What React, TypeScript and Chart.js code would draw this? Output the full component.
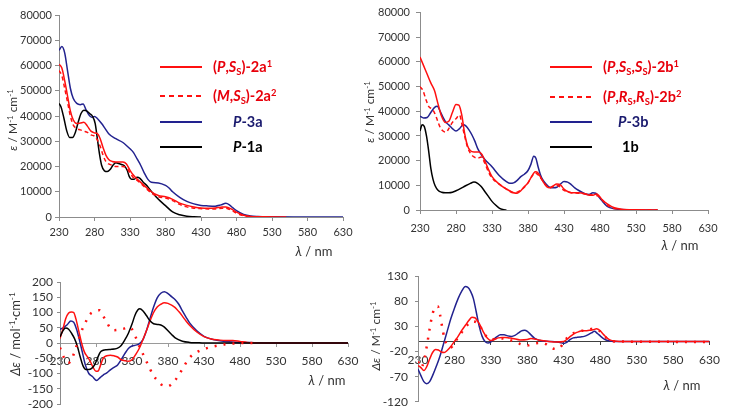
import React, { useEffect, useRef } from 'react';
import { Chart, registerables } from 'chart.js';
Chart.register(...registerables);

// ---------- tick labels ----------
const xTicks = [230, 280, 330, 380, 430, 480, 530, 580, 630];
const absYTicks = [0, 10000, 20000, 30000, 40000, 50000, 60000, 70000, 80000];
const cdLeftYTicks = [-200, -150, -100, -50, 0, 50, 100, 150, 200];
const cdRightYTicks = [-120, -70, -20, 30, 80, 130];

// ---------- top-left: absorption (a series) ----------
const wl3a = [230,234,238,242,246,250,255,260,264,268,272,276,280,284,290,295,300,310,320,330,335,340,345,350,355,360,370,380,385,390,400,410,420,430,440,450,458,465,470,475,480,490,500,510,530,560,630];
const eps3a = [66000,67500,65000,58000,51000,47000,45000,44500,44800,42500,40500,39500,39800,39000,37000,35000,33000,31000,29500,27000,25500,23000,20500,17500,15000,13800,13500,12500,11500,10000,7800,6200,5200,4600,4400,4300,4800,5400,4800,3600,2500,1000,350,150,50,0,0];
const wl2a1 = [230,234,238,242,246,250,255,260,265,270,275,280,284,288,292,296,300,305,310,315,320,325,330,335,340,350,360,370,380,390,400,410,420,430,440,450,460,465,470,475,480,490,500,520,550];
const eps2a1 = [60500,59000,54000,48000,42000,38500,37000,37200,37500,36000,34000,33300,33000,31000,27500,24500,22800,22000,21800,21800,21800,21000,18500,16500,15000,12500,10000,8500,8000,7000,5500,4600,4000,3600,3500,3600,4000,4000,3500,2800,1900,700,200,50,0];
const wl2a2 = [230,234,238,242,246,250,255,260,265,270,275,280,284,288,292,296,300,305,310,315,320,325,330,335,340,350,360,370,380,390,400,410,420,430,440,450,460,465,470,475,480,490,500,520];
const eps2a2 = [58000,56000,51000,45500,40000,36500,35000,34500,34000,33500,32500,32000,30500,28000,24500,22000,21000,20500,20000,20000,20000,19500,17500,15500,14500,12000,9500,8000,7500,6500,5000,4000,3500,3300,3200,3200,3500,3500,3000,2300,1500,500,100,0];
const wl1a = [230,233,237,241,245,249,253,257,261,265,269,273,277,281,284,287,290,294,298,302,306,310,314,318,322,326,329,332,336,340,344,348,355,362,370,380,390,400,410,420,430];
const eps1a = [45000,43500,39000,34000,31500,31500,33500,37500,41000,42300,42000,41000,40000,37000,31000,25000,20500,18300,18000,18800,20500,21500,21200,20800,20300,18500,16000,15000,15000,15700,15300,14000,12000,9500,7000,4500,2000,900,300,100,0];

// ---------- top-right: absorption (b series) ----------
const wl2b1 = [230,235,240,245,250,255,260,265,270,275,280,284,288,292,296,300,305,312,316,320,325,330,340,350,360,365,370,375,380,385,390,394,398,402,406,410,415,420,425,430,435,440,450,460,465,470,475,478,482,490,500,510,530,560];
const eps2b1 = [62000,58500,55000,51500,48500,43000,38000,35500,36000,39500,42800,42500,38500,31000,26000,24000,23500,23500,22500,20000,16500,13500,10500,8500,7000,6800,7800,9500,11000,13500,15500,15000,13000,11000,9500,9000,9800,10500,10200,8500,7500,7000,7000,6500,6000,6000,6500,6000,4500,2500,900,300,100,0];
const wl2b2 = [230,234,238,242,246,250,254,258,262,266,270,275,280,285,288,292,296,300,305,310,315,320,325,330,340,350,360,370,380,385,390,395,400,405,410,415,420,430,440,450,460,470,478,485,490,500,520,560];
const eps2b2 = [50000,48500,45000,42000,41000,39500,36500,33500,32000,31500,33000,35500,37000,38500,35000,30000,25500,23000,21500,21000,21500,19000,15500,13000,10500,8500,7000,8000,11000,13500,15000,14000,12000,10000,9000,9500,10000,8000,7000,6800,6500,6000,5500,3500,2000,600,100,0];
const wl3b = [230,235,240,245,250,254,258,262,266,270,275,280,285,290,294,298,302,306,310,315,320,330,340,350,355,360,365,370,375,380,384,388,391,394,397,400,405,410,415,420,425,430,435,440,445,450,460,465,470,474,478,482,490,500,510,530,560];
const eps3b = [38000,37300,37500,39500,41500,42000,40000,37500,35500,34500,33000,32000,33000,34500,34000,32500,30500,28000,25000,22500,20500,17500,14000,11500,10800,11000,12000,13500,14500,16000,18500,21800,21000,17500,14500,12500,10500,9200,9000,9200,10500,11500,11300,10300,9000,8000,6500,6300,7000,6800,5500,4000,1500,500,200,50,0];
const wl1b = [230,233,236,239,242,245,248,251,255,260,265,270,275,280,290,300,305,310,315,320,325,330,335,340,345,350];
const eps1b = [32000,34500,33800,30000,24000,17000,12500,9800,8000,7200,7000,7000,7200,7800,9300,10800,11300,10800,9500,7500,5500,3500,2000,800,200,0];

// ---------- bottom-left: CD (a series) ----------
const cdWl2a1 = [230,234,238,242,246,249,252,256,260,264,268,272,276,280,283,286,290,295,300,305,310,315,320,325,330,335,340,345,350,355,360,365,370,375,380,385,390,395,400,405,410,420,430,440,450,460,470,480,490,500,520,630];
const cd2a1 = [15,45,80,98,102,100,80,40,0,-30,-45,-60,-80,-93,-92,-75,-50,-42,-40,-42,-46,-55,-58,-60,-55,-38,-18,10,40,72,100,118,127,132,130,124,116,103,88,72,58,36,21,13,10,8,8,5,2,1,0,0];
const cdWl2a2 = [230,234,238,242,246,250,255,260,265,270,275,280,285,290,295,300,305,310,315,320,325,330,335,340,345,350,355,360,365,370,375,380,385,390,395,400,405,410,420,430,440,450,460,470,480,500];
const cd2a2 = [-15,-40,-60,-65,-55,-30,5,40,65,90,100,104,107,88,68,48,42,43,46,48,52,45,20,-10,-35,-60,-85,-108,-122,-135,-140,-142,-135,-122,-105,-85,-65,-48,-30,-20,-13,-8,-4,-2,0,0];
const cdWl3a = [230,235,240,245,249,253,257,261,265,270,275,281,285,290,295,300,305,310,315,320,325,330,335,340,345,350,355,360,365,370,375,380,385,390,395,400,405,410,420,430,440,450,460,470,480,500,520,630];
const cd3a = [45,50,60,72,68,45,10,-30,-70,-100,-110,-123,-115,-105,-98,-88,-80,-72,-55,-35,-18,-10,-7,-3,10,40,80,118,148,163,168,162,152,142,127,105,85,66,40,22,13,8,5,3,2,1,0,0];
const cdWl1a = [230,234,238,242,246,250,254,258,262,266,270,274,278,282,286,290,295,300,305,310,315,320,325,330,334,338,341,345,350,355,360,365,370,375,380,385,390,400,410,420,430,630];
const cd1a = [20,40,49,45,32,15,-10,-45,-75,-87,-87,-83,-72,-50,-30,-24,-22,-21,-20,-17,-8,10,32,62,90,108,112,106,90,73,63,61,59,52,40,28,17,6,2,1,0,0];

// ---------- bottom-right: CD (b series) ----------
const cdWl3b = [230,234,238,242,246,250,255,260,265,270,275,280,285,290,295,298,302,306,310,314,318,322,326,329,333,338,343,348,353,358,363,368,372,376,380,385,390,395,400,410,420,425,430,434,438,443,448,453,458,463,468,472,476,480,485,490,500,630];
const cd3b = [-55,-68,-80,-84,-80,-68,-50,-30,-5,20,45,66,85,100,109,108,100,85,58,30,10,0,-3,-2,3,9,13,13,11,10,12,17,21,22,20,13,6,3,1,0,-1,-2,-4,-2,3,7,8,9,10,13,17,20,16,11,5,2,0,0];
const cdWl2b1 = [230,234,238,242,246,250,254,258,262,266,270,275,280,285,290,295,300,304,308,312,316,320,325,330,335,340,345,350,355,360,370,380,385,390,395,400,410,420,430,435,440,445,450,455,460,465,470,475,480,485,490,495,500,510,630];
const cd2b1 = [-48,-52,-58,-50,-35,-22,-16,-17,-21,-22,-18,-10,0,10,22,32,42,48,47,40,30,18,7,2,4,7,8,8,7,6,3,4,6,5,3,2,0,-1,0,5,11,16,19,21,21,22,23,25,21,13,6,2,1,0,0];
const cdWl2b2 = [230,234,238,242,246,250,254,257,260,263,266,270,275,280,285,290,295,300,305,310,315,320,325,330,340,350,360,370,380,390,400,405,410,415,420,425,430,435,440,450,460,470,478,485,490,500,630];
const cd2b2 = [-40,-52,-40,-10,25,55,68,70,55,30,8,-8,-12,-3,8,18,28,36,40,38,30,18,8,4,6,5,1,-5,-8,-4,-3,-5,-10,-14,-15,-12,-2,8,14,20,22,25,22,12,5,0,-1];

// ---------- colours ----------
const RED = '#ff1010';
const BLUE = '#22228f';
const BLACK = '#000000';
const AXIS = '#8c8c8c';
const TEXT = '#333333';

const pts = (xs: number[], ys: number[]) => xs.map((x, i) => ({ x, y: ys[i] }));

type DS = { label: string; xs: number[]; ys: number[]; color: string; dash?: number[]; width?: number };

type PanelProps = {
  left: number; top: number; width: number; height: number;
  series: DS[];
  yMin: number; yMax: number; yTicks: number[];
  yAxisWidth: number; xAxisHeight?: number; xAtZero?: boolean;
  padding: { top: number; right: number; bottom: number; left: number };
  fontSize: number; xTickPad: number; yTickPad: number; tickLen: number;
  zeroColor?: string;
};

function Panel(p: PanelProps) {
  const ref = useRef<HTMLCanvasElement | null>(null);
  useEffect(() => {
    if (!ref.current) return;
    const font = { family: 'Lato', size: p.fontSize };
    const chart = new Chart(ref.current, {
      type: 'line',
      data: {
        datasets: p.series.map((s) => ({
          label: s.label,
          data: pts(s.xs, s.ys),
          borderColor: s.color,
          backgroundColor: s.color,
          borderWidth: s.width ?? 1.5,
          borderDash: s.dash ?? [],
          pointRadius: 0,
          fill: false,
          cubicInterpolationMode: 'monotone' as const,
        })),
      },
      options: {
        responsive: false,
        animation: false,
        devicePixelRatio: 1,
        layout: { padding: p.padding },
        plugins: { legend: { display: false }, tooltip: { enabled: false } },
        scales: {
          x: {
            type: 'linear',
            min: 230,
            max: 630,
            position: p.xAtZero ? ({ y: 0 } as any) : 'bottom',
            afterBuildTicks: (s: any) => { s.ticks = xTicks.map((v) => ({ value: v })); },
            afterFit: (s: any) => { if (!p.xAtZero && p.xAxisHeight) s.height = p.xAxisHeight; },
            ticks: { callback: (v: any) => String(v), color: TEXT, font, padding: p.xTickPad, maxRotation: 0, autoSkip: false },
            grid: { drawOnChartArea: false, drawTicks: true, tickLength: p.tickLen, color: p.zeroColor ?? AXIS },
            border: { display: true, color: p.zeroColor ?? AXIS, width: 1 },
          },
          y: {
            type: 'linear',
            min: p.yMin,
            max: p.yMax,
            afterBuildTicks: (s: any) => { s.ticks = p.yTicks.map((v) => ({ value: v })); },
            afterFit: (s: any) => { s.width = p.yAxisWidth; },
            ticks: { callback: (v: any) => String(v), color: TEXT, font, padding: p.yTickPad, autoSkip: false },
            grid: { drawOnChartArea: false, drawTicks: true, tickLength: p.tickLen, color: AXIS },
            border: { display: true, color: AXIS, width: 1 },
          },
        },
      },
    } as any);
    return () => chart.destroy();
  }, []);
  return (
    <canvas
      ref={ref}
      width={p.width}
      height={p.height}
      style={{ position: 'absolute', left: p.left, top: p.top, width: p.width, height: p.height }}
    />
  );
}

const supStyle: React.CSSProperties = { fontSize: '0.65em', position: 'relative', top: '-0.55em' };
const subStyle: React.CSSProperties = { fontSize: '0.65em', position: 'relative', top: '0.3em' };

function VText({ cx, cy, size, children }: { cx: number; cy: number; size: number; children: React.ReactNode }) {
  return (
    <div style={{ position: 'absolute', left: cx, top: cy, transform: 'translate(-50%, -50%) rotate(-90deg)', whiteSpace: 'nowrap', fontSize: size, color: TEXT, fontFamily: 'Lato', lineHeight: 1 }}>
      {children}
    </div>
  );
}

function HText({ cx, cy, size, children }: { cx: number; cy: number; size: number; children: React.ReactNode }) {
  return (
    <div style={{ position: 'absolute', left: cx, top: cy, transform: 'translate(-50%, -50%)', whiteSpace: 'nowrap', fontSize: size, color: TEXT, fontFamily: 'Lato', lineHeight: 1 }}>
      {children}
    </div>
  );
}

function LegendRow({ x, y, color, dash, textX, textColor, children }: { x: number; y: number; color: string; dash?: string; textX: number; textColor: string; children: React.ReactNode }) {
  return (
    <>
      <svg style={{ position: 'absolute', left: x, top: y - 2, overflow: 'visible' }} width={42} height={4}>
        <line x1={0} y1={2} x2={42} y2={2} stroke={color} strokeWidth={2} strokeDasharray={dash} />
      </svg>
      <div style={{ position: 'absolute', left: textX, top: y - 9, height: 18, lineHeight: '18px', whiteSpace: 'nowrap', fontFamily: 'Lato', fontWeight: 700, fontSize: 14.5, color: textColor }}>
        {children}
      </div>
    </>
  );
}

const TXT_RED = '#e8000b';
const TXT_BLUE = '#1a1a6e';

export default function App() {
  useEffect(() => { document.body.style.margin = '0'; }, []);
  const lam = (<><i>λ</i> / nm</>);
  return (
    <div style={{ position: 'absolute', left: 0, top: 0, width: 729, height: 416, background: '#fff', overflow: 'hidden' }}>
      <Panel
        left={0} top={0} width={370} height={245}
        series={[
          { label: '(M,SS)-2a2', xs: wl2a2, ys: eps2a2, color: RED, dash: [4, 3] },
          { label: '(P,SS)-2a1', xs: wl2a1, ys: eps2a1, color: RED },
          { label: 'P-1a', xs: wl1a, ys: eps1a, color: BLACK },
          { label: 'P-3a', xs: wl3a, ys: eps3a, color: BLUE },
        ]}
        yMin={0} yMax={80000} yTicks={absYTicks}
        yAxisWidth={59} xAxisHeight={25}
        padding={{ top: 15, right: 27, bottom: 3, left: 0 }}
        fontSize={11} xTickPad={5} yTickPad={3} tickLen={4}
      />
      <Panel
        left={370} top={0} width={359} height={245}
        series={[
          { label: '(P,RS,RS)-2b2', xs: wl2b2, ys: eps2b2, color: RED, dash: [4, 3] },
          { label: '(P,SS,SS)-2b1', xs: wl2b1, ys: eps2b1, color: RED },
          { label: '1b', xs: wl1b, ys: eps1b, color: BLACK },
          { label: 'P-3b', xs: wl3b, ys: eps3b, color: BLUE },
        ]}
        yMin={0} yMax={80000} yTicks={absYTicks}
        yAxisWidth={50} xAxisHeight={25}
        padding={{ top: 11, right: 21, bottom: 10, left: 0 }}
        fontSize={11} xTickPad={8} yTickPad={6} tickLen={4}
      />
      <Panel
        left={0} top={250} width={370} height={166}
        series={[
          { label: '(M,SS)-2a2', xs: cdWl2a2, ys: cd2a2, color: RED, dash: [2, 7], width: 2.5 },
          { label: 'P-1a', xs: cdWl1a, ys: cd1a, color: BLACK },
          { label: '(P,SS)-2a1', xs: cdWl2a1, ys: cd2a1, color: RED },
          { label: 'P-3a', xs: cdWl3a, ys: cd3a, color: BLUE },
        ]}
        yMin={-200} yMax={200} yTicks={cdLeftYTicks}
        yAxisWidth={60} xAtZero
        padding={{ top: 32, right: 22, bottom: 12, left: 0 }}
        fontSize={12} xTickPad={8} yTickPad={4} tickLen={3}
        zeroColor="#9a9a9a"
      />
      <Panel
        left={370} top={250} width={359} height={166}
        series={[
          { label: '(P,RS,RS)-2b2', xs: cdWl2b2, ys: cd2b2, color: RED, dash: [2, 7], width: 2.5 },
          { label: '(P,SS,SS)-2b1', xs: cdWl2b1, ys: cd2b1, color: RED },
          { label: 'P-3b', xs: cdWl3b, ys: cd3b, color: BLUE },
        ]}
        yMin={-120} yMax={130} yTicks={cdRightYTicks}
        yAxisWidth={48} xAtZero
        padding={{ top: 26, right: 16, bottom: 13, left: 0 }}
        fontSize={12} xTickPad={9} yTickPad={7} tickLen={3}
        zeroColor="#404040"
      />

      {/* axis titles */}
      <VText cx={13} cy={120} size={12}><i>ε</i> / M<span style={supStyle}>-1</span> cm<span style={supStyle}>-1</span></VText>
      <VText cx={370} cy={112} size={12}><i>ε</i> / M<span style={supStyle}>-1</span> cm<span style={supStyle}>-1</span></VText>
      <VText cx={15} cy={334} size={13}><i>Δε</i> / mol<span style={supStyle}>-1</span>·cm<span style={supStyle}>-1</span></VText>
      <VText cx={376} cy={336} size={12}><i>Δε</i> / M<span style={supStyle}>-1</span> cm<span style={supStyle}>-1</span></VText>
      <HText cx={314} cy={251} size={13}>{lam}</HText>
      <HText cx={680} cy={245} size={13}>{lam}</HText>
      <HText cx={327} cy={380} size={13}>{lam}</HText>
      <HText cx={682} cy={385} size={13}>{lam}</HText>

      {/* legend: top-left */}
      <LegendRow x={160} y={67} color={RED} textX={213} textColor={TXT_RED}>(<i>P</i>,<i>S</i><span style={subStyle}>S</span>)-2a<span style={supStyle}>1</span></LegendRow>
      <LegendRow x={160} y={96} color={RED} dash="5 4" textX={213} textColor={TXT_RED}>(<i>M</i>,<i>S</i><span style={subStyle}>S</span>)-2a<span style={supStyle}>2</span></LegendRow>
      <LegendRow x={160} y={122} color={BLUE} textX={233} textColor={TXT_BLUE}><i>P</i>-3a</LegendRow>
      <LegendRow x={160} y={147} color={BLACK} textX={233} textColor={BLACK}><i>P</i>-1a</LegendRow>

      {/* legend: top-right */}
      <LegendRow x={550} y={67} color={RED} textX={603} textColor={TXT_RED}>(<i>P</i>,<i>S</i><span style={subStyle}>S</span>,<i>S</i><span style={subStyle}>S</span>)-2b<span style={supStyle}>1</span></LegendRow>
      <LegendRow x={550} y={97} color={RED} dash="5 4" textX={603} textColor={TXT_RED}>(<i>P</i>,<i>R</i><span style={subStyle}>S</span>,<i>R</i><span style={subStyle}>S</span>)-2b<span style={supStyle}>2</span></LegendRow>
      <LegendRow x={550} y={122} color={BLUE} textX={618} textColor={TXT_BLUE}><i>P</i>-3b</LegendRow>
      <LegendRow x={550} y={147} color={BLACK} textX={622} textColor={BLACK}>1b</LegendRow>
    </div>
  );
}
